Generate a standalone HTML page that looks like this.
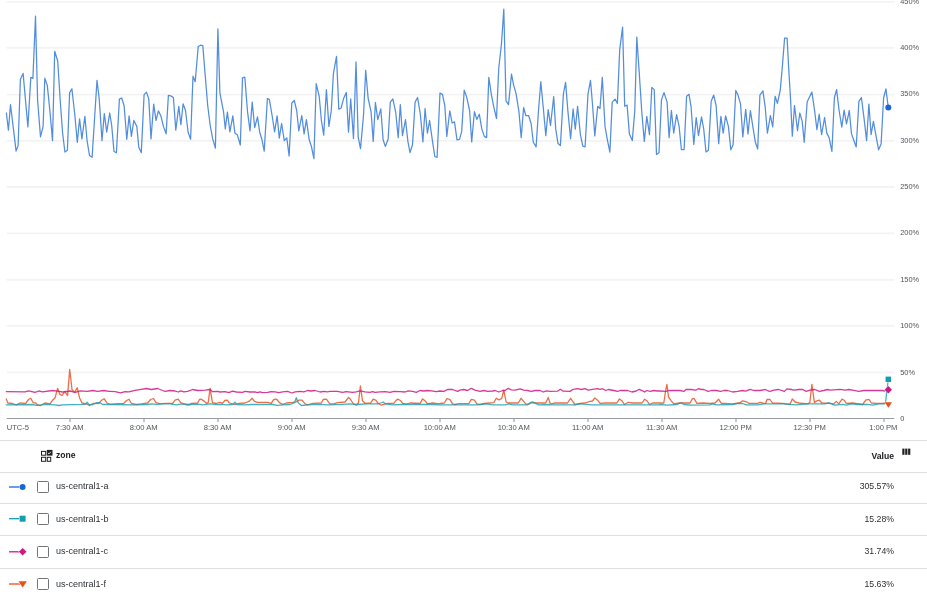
<!DOCTYPE html>
<html><head><meta charset="utf-8">
<style>
html,body{margin:0;padding:0;background:#fff;}
body{width:927px;height:600px;overflow:hidden;position:relative;font-family:"Liberation Sans",sans-serif;}
svg{position:absolute;left:0;top:0;}
.yl{font-size:7.4px;fill:#50545a;font-family:"Liberation Sans",sans-serif;}
.xl{font-size:7.6px;fill:#50545a;font-family:"Liberation Sans",sans-serif;}
.hr{position:absolute;left:0;width:927px;height:1px;background:#e0e0e0;}
.lbl{position:absolute;left:56px;font-size:9px;color:#2d3034;line-height:10px;white-space:nowrap;}
.val{position:absolute;right:33px;font-size:8.7px;color:#2d3034;line-height:10px;white-space:nowrap;text-align:right;}
.cb{position:absolute;left:37px;width:10px;height:10px;border:1px solid #70757a;border-radius:1.5px;box-sizing:content-box;}
.hd{position:absolute;font-size:8.6px;color:#202124;line-height:10px;font-weight:bold;white-space:nowrap;}
</style></head><body><div id="w" style="position:absolute;left:0;top:0;width:927px;height:600px;will-change:transform;background:#fff;">
<svg width="927" height="600" viewBox="0 0 927 600">
<g stroke="#f3f3f3" stroke-width="1.8" fill="none">
<line x1="6.7" x2="894.4" y1="372.40" y2="372.40"/>
<line x1="6.7" x2="894.4" y1="325.80" y2="325.80"/>
<line x1="6.7" x2="894.4" y1="279.80" y2="279.80"/>
<line x1="6.7" x2="894.4" y1="233.40" y2="233.40"/>
<line x1="6.7" x2="894.4" y1="187.00" y2="187.00"/>
<line x1="6.7" x2="894.4" y1="140.85" y2="140.85"/>
<line x1="6.7" x2="894.4" y1="94.55" y2="94.55"/>
<line x1="6.7" x2="894.4" y1="47.80" y2="47.80"/>
<line x1="6.7" x2="894.4" y1="1.90" y2="1.90"/>
</g>
<line x1="6.7" x2="894.2" y1="418.5" y2="418.5" stroke="#969ba1" stroke-width="1"/>
<g stroke="#c6c9cc" stroke-width="2">
<line x1="70.0" x2="70.0" y1="419" y2="421.9"/>
<line x1="144.0" x2="144.0" y1="419" y2="421.9"/>
<line x1="218.0" x2="218.0" y1="419" y2="421.9"/>
<line x1="292.0" x2="292.0" y1="419" y2="421.9"/>
<line x1="366.0" x2="366.0" y1="419" y2="421.9"/>
<line x1="440.0" x2="440.0" y1="419" y2="421.9"/>
<line x1="514.0" x2="514.0" y1="419" y2="421.9"/>
<line x1="588.0" x2="588.0" y1="419" y2="421.9"/>
<line x1="662.0" x2="662.0" y1="419" y2="421.9"/>
<line x1="736.0" x2="736.0" y1="419" y2="421.9"/>
<line x1="810.0" x2="810.0" y1="419" y2="421.9"/>
<line x1="884.0" x2="884.0" y1="419" y2="421.9"/>
</g>
<g class="yl">
<text x="900.2" y="420.5">0</text>
<text x="900.2" y="374.7">50%</text>
<text x="900.2" y="327.9">100%</text>
<text x="900.2" y="281.6">150%</text>
<text x="900.2" y="235.3">200%</text>
<text x="900.2" y="189.0">250%</text>
<text x="900.2" y="142.7">300%</text>
<text x="900.2" y="96.1">350%</text>
<text x="900.2" y="50.1">400%</text>
<text x="900.2" y="3.8">450%</text>
</g>
<g class="xl" text-anchor="middle">
<text x="6.7" y="430.0" text-anchor="start">UTC-5</text>
<text x="69.7" y="430.0">7:30 AM</text>
<text x="143.7" y="430.0">8:00 AM</text>
<text x="217.7" y="430.0">8:30 AM</text>
<text x="291.7" y="430.0">9:00 AM</text>
<text x="365.7" y="430.0">9:30 AM</text>
<text x="439.7" y="430.0">10:00 AM</text>
<text x="513.7" y="430.0">10:30 AM</text>
<text x="587.7" y="430.0">11:00 AM</text>
<text x="661.7" y="430.0">11:30 AM</text>
<text x="735.7" y="430.0">12:00 PM</text>
<text x="809.7" y="430.0">12:30 PM</text>
<text x="883.3" y="430.0">1:00 PM</text>
</g>
<g fill="none" stroke-linejoin="round" stroke-linecap="round">
<polyline stroke="#e64a19" stroke-opacity="0.8" stroke-width="1.3" points="6.3,398.9 7.8,403.0 12.5,403.5 16.3,404.8 20.0,403.0 25.7,403.3 28.5,399.5 30.7,398.3 33.2,402.7 35.7,403.0 37.5,404.8 40.7,405.5 45.0,403.0 50.1,403.9 52.6,400.2 55.1,397.7 57.6,388.3 59.8,394.3 62.2,395.5 64.7,391.4 67.6,395.5 69.7,369.5 72.0,389.5 74.7,392.4 77.2,387.7 79.5,397.7 82.0,403.0 86.3,403.9 89.5,405.5 93.2,403.3 98.9,403.5 101.6,400.2 104.1,398.7 107.0,403.0 110.1,404.3 115.0,403.9 123.8,403.3 126.3,400.8 129.0,399.3 131.3,403.3 136.3,404.5 141.3,403.9 147.5,403.0 150.7,399.5 153.5,398.5 156.0,402.7 160.1,403.9 165.1,403.3 172.6,403.3 175.1,400.2 178.2,399.2 180.7,402.7 185.1,404.5 188.8,405.2 191.3,403.3 197.6,403.0 199.5,399.5 201.3,399.2 204.5,401.4 206.4,403.3 208.2,402.7 210.1,388.3 212.4,402.7 216.4,403.5 218.9,402.5 220.0,402.3 222.5,403.3 224.8,400.5 227.3,400.2 229.4,403.0 232.5,403.9 235.0,404.5 238.8,403.3 245.0,403.0 248.8,401.4 252.2,398.3 254.4,401.4 257.5,402.3 267.6,402.3 271.3,403.3 273.2,400.2 275.1,399.2 276.9,399.5 279.4,402.7 282.6,404.3 286.3,403.0 292.6,402.3 296.3,401.8 298.8,400.2 302.0,400.2 305.1,403.9 307.6,404.8 312.6,403.3 321.4,403.0 323.2,399.5 326.4,399.2 328.9,402.7 330.0,403.9 333.8,403.9 337.5,402.7 345.0,402.0 348.5,397.4 350.6,399.5 353.1,403.5 356.3,405.2 358.5,402.7 360.4,385.8 362.5,400.8 365.0,403.3 370.7,403.0 373.2,399.2 375.7,400.2 378.2,403.5 381.3,405.2 383.8,404.3 387.6,403.3 393.8,403.3 396.3,400.2 398.2,399.2 400.7,400.8 402.6,403.3 406.3,404.2 410.1,403.0 420.1,403.5 422.6,398.9 425.1,400.8 427.6,403.9 432.6,403.0 437.6,403.7 440.0,403.5 444.4,403.0 446.9,398.7 449.8,399.3 452.5,403.9 455.0,404.5 458.8,403.7 468.8,403.7 471.3,399.3 474.4,400.2 476.9,403.9 480.0,404.5 483.8,403.5 493.8,402.7 496.3,398.3 498.8,399.9 501.6,398.7 503.8,390.2 506.1,402.0 508.2,403.0 518.2,403.0 521.1,398.3 523.2,400.8 525.7,403.9 528.8,404.3 531.3,402.7 535.1,403.0 545.7,403.0 548.2,397.4 550.1,403.3 551.3,403.9 555.0,403.0 567.5,403.0 570.6,398.3 573.1,402.0 575.0,404.5 580.0,403.3 585.0,403.0 590.0,401.4 592.5,401.0 594.8,397.9 597.6,400.2 600.1,403.3 605.1,403.0 616.9,403.0 619.4,398.9 622.0,400.8 624.5,404.5 628.2,402.3 632.6,403.0 642.0,403.0 644.5,399.3 647.0,400.8 649.5,404.5 652.6,403.0 660.1,403.0 663.8,403.0 665.6,390.8 666.9,384.3 668.5,397.0 671.3,400.8 673.8,403.9 678.8,403.0 690.0,403.0 692.3,398.9 694.0,398.3 696.9,403.3 702.5,403.0 710.1,403.5 715.1,403.0 718.6,399.2 721.3,403.3 725.1,403.3 732.6,403.9 740.1,402.7 742.6,400.8 746.3,401.8 748.8,403.3 757.6,403.3 760.1,402.3 763.9,403.3 765.7,403.3 767.0,399.5 770.1,399.5 772.5,403.0 782.5,403.3 790.0,404.3 792.3,398.9 795.0,402.0 798.8,403.0 807.5,403.9 809.8,402.7 811.9,384.3 814.4,402.7 816.9,400.8 819.4,400.2 821.9,403.0 828.8,403.3 833.8,403.9 836.3,401.4 838.8,403.9 842.0,399.2 844.5,400.5 846.3,403.3 852.6,403.0 862.6,404.5 865.7,400.2 868.9,399.3 871.4,403.0 876.4,403.3 882.6,403.3 885.1,402.8 888.3,403.5"/>
<polyline stroke="#d01884" stroke-opacity="0.85" stroke-width="1.3" points="6.3,391.7 25.0,391.8 28.8,390.8 35.0,392.4 38.8,391.0 42.5,391.8 52.6,390.5 58.8,391.4 62.6,392.0 70.1,391.0 75.1,392.4 80.1,390.8 87.6,391.4 92.6,390.5 97.6,391.4 103.9,390.5 108.9,391.4 110.0,391.4 115.0,391.7 120.6,392.9 125.0,391.7 128.8,391.8 135.0,390.4 141.3,389.3 146.3,388.5 151.3,389.5 157.6,388.5 162.6,390.5 165.1,391.4 170.1,390.5 175.1,391.0 178.2,392.0 180.7,390.8 183.8,391.8 187.6,391.4 192.6,389.5 197.6,390.5 205.1,390.2 210.1,389.5 212.6,391.7 217.6,391.4 220.0,392.0 225.0,391.7 228.8,392.7 232.5,391.2 236.3,392.0 242.5,392.4 245.0,391.4 250.0,392.0 255.0,391.8 257.5,392.7 260.0,391.8 262.5,392.7 267.6,392.4 271.3,391.7 275.1,391.8 278.8,392.7 282.6,391.8 287.6,391.4 292.0,393.0 295.1,391.8 300.1,391.4 303.8,391.8 307.6,390.5 311.3,391.0 315.1,390.5 320.1,392.0 323.9,391.4 327.6,391.8 330.0,391.4 337.5,391.4 342.5,392.3 346.3,391.7 352.5,392.3 356.3,391.8 360.0,390.8 365.0,391.8 370.0,392.3 372.5,391.7 375.0,392.4 380.1,391.8 385.1,391.7 390.1,392.4 393.8,391.4 400.1,391.7 405.1,392.0 408.2,390.8 412.6,391.4 416.3,392.3 420.1,390.5 423.9,391.0 427.6,390.5 431.4,390.8 436.4,391.7 440.0,391.0 443.8,391.4 447.5,389.5 452.5,389.5 457.5,391.4 460.0,390.2 463.8,389.5 467.5,390.5 471.3,388.3 475.0,390.2 480.0,391.4 483.8,390.5 487.6,391.4 492.6,391.0 495.1,390.5 498.8,392.0 502.6,390.5 505.1,390.5 508.2,388.3 511.3,389.8 515.1,390.2 520.1,388.9 523.8,390.2 527.6,390.5 531.3,391.4 535.1,390.5 540.1,390.5 543.2,392.0 546.4,390.8 550.0,391.4 557.5,391.2 560.3,389.3 563.1,391.2 570.0,391.4 573.1,389.3 577.5,388.7 581.3,389.5 585.0,388.7 588.2,390.2 592.5,389.3 597.6,388.7 600.1,389.3 602.6,388.7 605.7,390.5 608.2,389.5 613.8,390.5 617.6,391.4 620.1,390.5 627.6,390.5 632.0,392.0 636.3,391.0 639.1,389.3 642.6,390.8 644.5,392.0 647.0,390.5 650.1,391.4 653.9,390.5 657.6,391.0 660.0,391.0 666.3,391.4 668.8,390.5 680.0,390.5 683.8,391.4 686.3,389.3 691.3,389.5 695.7,390.2 698.2,388.7 701.3,389.5 703.8,389.5 708.2,391.4 711.3,390.5 716.3,390.5 720.7,391.4 723.8,390.5 727.6,390.5 732.6,392.0 737.6,391.4 742.6,390.5 745.7,391.2 750.1,389.3 753.9,390.5 760.1,390.5 765.1,389.5 768.9,391.2 770.0,391.4 773.8,390.2 778.8,389.5 784.4,391.4 786.9,388.9 791.3,389.5 793.8,390.2 798.8,389.5 802.5,389.5 806.3,391.4 810.0,390.2 815.0,389.5 819.4,391.4 823.8,390.5 827.6,389.5 830.1,390.2 833.8,389.8 840.1,389.3 845.1,390.2 848.8,389.5 852.6,390.2 858.8,391.4 863.9,390.5 870.1,390.5 877.6,390.5 881.7,390.4 884.6,391.0 888.3,389.8"/>
<polyline stroke="#129eaf" stroke-opacity="0.8" stroke-width="1.3" points="6.3,404.8 32.5,404.5 36.3,405.4 41.3,404.9 43.8,404.3 55.1,404.8 58.8,405.5 62.6,404.8 85.1,404.3 87.2,402.3 88.8,404.3 92.6,404.8 96.4,402.7 100.1,402.7 102.6,404.5 108.9,404.5 110.0,404.5 135.0,404.8 147.5,404.5 151.3,403.9 156.3,404.3 162.6,403.9 170.1,403.9 176.3,404.9 182.6,403.9 190.1,404.5 197.6,404.2 202.6,404.8 210.1,403.9 216.4,404.5 220.0,404.3 227.5,404.9 232.5,404.5 235.0,402.3 236.9,404.5 245.0,404.8 251.3,404.5 272.6,404.5 277.6,405.4 282.6,404.9 290.1,404.5 294.5,402.7 296.3,397.7 298.2,402.7 301.3,405.5 307.6,404.8 320.1,404.3 326.4,404.8 330.0,404.8 342.5,404.3 350.0,403.9 356.3,404.5 367.5,403.9 377.6,403.9 380.7,403.0 383.2,402.0 385.7,403.9 392.6,404.9 402.6,404.5 417.6,404.5 430.1,404.5 440.0,404.8 452.5,404.8 477.5,404.8 486.3,403.9 492.6,404.9 505.1,404.8 508.8,403.9 512.6,404.8 527.6,404.8 530.1,402.7 532.6,401.8 535.7,403.3 538.9,404.8 548.9,404.5 550.0,404.8 575.0,404.8 580.0,403.9 587.5,404.3 591.3,404.9 612.6,404.8 658.9,404.8 660.0,404.5 667.5,405.2 677.5,404.5 679.4,403.3 681.3,402.7 683.8,404.5 691.3,405.2 710.1,404.8 712.6,403.9 716.3,404.9 732.6,404.5 737.6,403.5 742.6,403.5 746.3,404.9 757.6,404.9 763.9,403.9 768.9,403.9 770.0,403.9 782.5,403.9 796.3,404.8 807.5,403.9 825.1,403.9 828.8,402.7 832.6,404.5 835.1,405.2 842.6,404.3 846.3,405.2 851.3,403.9 857.6,404.5 867.6,404.3 872.6,405.2 878.9,403.9 884.5,403.8 885.4,403.3 888.2,380.0"/>
<polyline stroke="#1967d2" stroke-opacity="0.75" stroke-width="1.25" points="6.4,113.0 8.4,130.2 10.5,104.6 16.1,151.1 18.1,145.6 20.4,79.2 23.1,73.4 27.9,126.9 30.8,77.4 32.9,78.4 35.5,16.2 37.6,100.3 40.5,136.9 43.1,126.4 44.8,78.2 47.3,85.4 50.0,112.0 52.5,140.6 54.7,51.3 57.7,61.0 60.2,100.3 62.6,133.0 64.9,152.0 67.4,150.3 69.6,92.9 71.9,88.8 74.7,113.8 77.3,142.3 79.6,118.9 81.9,138.9 84.9,116.3 87.0,140.0 89.5,155.6 92.1,157.3 94.6,118.0 97.0,80.4 99.2,98.8 102.0,140.6 104.3,113.5 106.7,132.2 109.7,113.0 111.7,125.5 114.0,151.5 116.4,152.8 119.4,99.1 121.7,98.0 124.1,105.8 126.8,139.3 129.1,115.8 131.4,136.4 133.8,120.5 136.8,126.4 138.8,147.3 141.3,152.8 144.1,94.6 146.5,92.1 148.8,99.1 151.0,138.9 153.7,104.1 156.0,120.5 158.4,110.8 161.0,116.3 163.4,126.4 166.1,133.9 168.4,95.4 170.7,95.9 173.4,97.5 175.8,130.2 178.8,106.3 180.9,124.7 183.1,103.8 185.5,110.5 188.1,132.2 190.6,139.3 193.0,76.2 195.2,81.7 198.2,46.5 200.5,45.2 202.8,45.5 205.2,75.3 207.7,105.5 210.2,125.5 212.7,138.9 215.4,148.1 217.9,28.8 219.9,92.9 223.6,112.2 225.3,128.9 227.4,112.2 229.9,131.9 232.8,115.8 234.9,133.1 237.3,134.7 240.3,145.1 242.5,77.9 244.8,77.1 247.5,111.3 250.0,130.9 252.2,102.1 254.7,127.7 257.5,116.8 259.7,132.2 262.0,139.8 264.2,151.1 267.4,98.5 269.4,99.6 272.1,115.5 274.6,131.9 277.1,115.8 279.3,138.1 281.6,123.5 284.3,140.6 286.8,137.8 289.1,156.0 291.8,103.0 294.3,100.5 296.7,110.5 298.8,130.9 301.8,115.5 304.1,133.9 306.4,119.7 309.2,139.8 311.4,146.4 313.9,158.7 316.2,83.7 319.2,96.3 321.4,120.5 323.7,135.2 326.4,89.6 328.9,126.4 331.3,110.5 333.4,73.7 336.5,56.4 338.8,109.2 341.1,108.0 343.5,98.8 346.3,92.6 348.5,132.2 350.7,98.8 353.5,138.6 356.0,61.9 358.2,137.2 360.5,148.6 363.5,115.5 365.7,70.3 368.1,98.0 371.1,112.2 373.2,141.4 375.4,102.5 377.8,119.7 380.8,108.8 383.1,139.8 385.3,146.4 388.1,139.3 390.3,102.1 392.8,98.8 395.7,112.2 398.2,137.6 400.3,104.6 402.5,135.6 405.5,119.7 407.9,141.4 410.0,152.6 412.5,144.8 415.1,102.1 417.6,97.5 420.4,114.7 422.9,141.9 425.1,108.5 427.4,133.1 429.6,120.5 432.4,140.6 434.8,156.5 437.1,157.3 440.0,92.9 442.5,94.6 444.8,105.5 446.8,136.4 449.8,110.8 452.1,123.0 454.5,121.9 457.0,139.8 459.5,139.3 461.7,131.4 464.2,90.1 466.7,97.1 469.6,110.5 471.7,141.9 474.4,111.7 476.8,119.4 479.3,114.2 481.8,128.9 484.3,136.4 486.6,137.6 488.8,77.4 491.5,95.4 493.8,107.2 496.5,118.5 498.7,68.8 501.5,43.5 503.8,9.2 506.0,100.8 508.5,104.6 511.5,74.0 513.5,84.6 516.1,93.8 518.9,111.3 521.2,137.6 523.6,107.5 525.8,115.5 528.6,115.5 531.1,123.5 533.3,142.3 536.1,146.9 538.4,112.0 540.8,81.7 543.3,108.0 545.8,135.6 548.2,109.7 550.5,125.5 553.7,96.6 555.7,128.9 558.0,143.6 560.4,145.6 563.4,93.8 565.6,82.4 567.9,111.3 570.6,138.6 573.1,108.8 575.3,129.2 577.6,106.3 580.4,134.7 582.8,146.1 585.1,146.8 588.0,93.8 590.5,80.4 592.6,105.5 594.8,135.9 597.7,106.3 600.0,108.5 602.3,77.4 605.0,126.4 607.5,140.6 609.9,152.0 612.2,102.1 615.1,99.1 617.4,103.5 619.7,49.7 622.6,27.1 624.7,106.3 627.1,105.1 629.4,133.9 632.3,140.6 634.8,110.5 636.8,37.1 639.2,72.0 641.8,112.2 644.3,141.4 646.8,116.3 649.5,134.7 651.8,87.4 654.2,89.6 656.5,154.5 659.0,152.8 661.5,99.6 664.0,92.6 667.1,102.1 669.1,137.6 671.4,110.5 673.7,133.1 676.6,114.7 679.1,126.4 681.4,149.5 684.1,149.5 686.6,96.3 689.0,94.3 691.1,107.2 693.8,144.4 696.2,117.5 698.5,135.6 701.5,116.8 703.7,128.9 706.0,152.0 708.4,150.3 711.2,101.3 713.7,95.1 716.1,105.5 718.7,143.6 720.9,116.3 723.2,133.1 725.6,115.8 728.4,126.4 730.8,149.8 733.1,144.8 735.8,90.4 738.0,95.1 740.5,103.8 742.8,136.9 745.7,109.3 748.0,133.9 750.4,110.6 752.8,126.4 755.4,142.3 757.7,149.0 759.9,95.1 762.9,90.8 765.2,107.2 767.4,133.1 770.4,115.5 772.7,126.9 775.1,96.3 777.4,103.3 780.3,89.8 782.6,63.5 784.6,38.1 787.1,38.1 788.8,70.2 790.6,100.3 792.3,136.1 794.5,105.5 797.5,130.6 799.8,113.0 802.2,121.4 804.2,142.3 807.2,101.8 809.5,97.1 811.9,92.1 814.7,111.3 816.9,129.7 819.2,114.2 821.6,134.7 824.6,117.5 826.8,133.1 829.1,137.6 831.9,151.5 834.4,97.5 836.6,89.6 839.1,110.5 841.8,127.2 844.1,110.2 846.5,123.9 849.3,110.5 851.5,133.9 853.8,140.3 856.2,147.0 858.9,101.3 861.4,97.5 863.9,117.2 866.6,140.6 868.9,104.1 871.1,134.7 873.4,121.4 876.3,137.3 878.6,149.8 881.1,143.9 883.6,98.0 885.9,88.8 888.3,107.5"/>
</g>
<circle cx="888.3" cy="107.6" r="3" fill="#1967d2"/>
<rect x="885.6" y="376.6" width="5.4" height="5.4" fill="#129eaf" stroke="#fff" stroke-opacity="0.8" stroke-width="1" paint-order="stroke"/>
<path d="M888.3 386.1 L892 389.8 L888.3 393.5 L884.6 389.8 Z" fill="#d01884" stroke="#fff" stroke-opacity="0.8" stroke-width="1" paint-order="stroke"/>
<path d="M884.8 402.2 L892 402.2 L888.4 407.8 Z" fill="#e8501a" stroke="#fff" stroke-opacity="0.8" stroke-width="1" paint-order="stroke"/>
<!-- legend markers -->
<g stroke-width="1.3" fill="none">
<line x1="9" x2="21" y1="487" y2="487" stroke="#1967d2"/>
<line x1="9" x2="21" y1="518.7" y2="518.7" stroke="#129eaf"/>
<line x1="9" x2="21" y1="551.8" y2="551.8" stroke="#d01884"/>
<line x1="9" x2="21" y1="584" y2="584" stroke="#e8501a"/>
</g>
<circle cx="22.6" cy="487" r="3" fill="#1967d2" stroke="#fff" stroke-width="1" paint-order="stroke"/>
<rect x="19.6" y="515.7" width="6" height="6" fill="#129eaf" stroke="#fff" stroke-width="1" paint-order="stroke"/>
<path d="M22.7 548.0 L26.5 551.8 L22.7 555.6 L18.9 551.8 Z" fill="#d01884" stroke="#fff" stroke-width="1" paint-order="stroke"/>
<path d="M18.5 581.2 L26.9 581.2 L22.7 587.5 Z" fill="#e8501a" stroke="#fff" stroke-width="1" paint-order="stroke"/>
<!-- zone icon -->
<g id="zicon" fill="none" stroke="#202124" stroke-width="1">
<rect x="41.5" y="451.4" width="4.2" height="3.8"/>
<rect x="41.5" y="457.3" width="4.2" height="4"/>
<rect x="47.3" y="457.3" width="3.4" height="4"/>
<rect x="46.8" y="449.9" width="5.7" height="5.7" fill="#202124" stroke="none"/>
<path d="M47.9 453.0 L48.9 453.9 L50.9 451.8" stroke="#fff" stroke-width="0.9"/>
</g>
<!-- columns icon -->
<g fill="#202124"><rect x="902.3" y="448.6" width="2.2" height="6.2"/><rect x="905.2" y="448.6" width="2.2" height="6.2"/><rect x="908.1" y="448.6" width="2.2" height="6.2"/></g>

</svg>
<div class="hr" style="top:440px"></div>
<div class="hr" style="top:472px"></div>
<div class="hr" style="top:503px"></div>
<div class="hr" style="top:535px"></div>
<div class="hr" style="top:568px"></div>
<div class="hd" style="left:56px;top:450px">zone</div>
<div class="hd" style="right:33px;top:451px">Value</div>
<div class="cb" style="top:481px"></div><div class="lbl" style="top:480.7px">us-central1-a</div><div class="val" style="top:480.7px">305.57%</div>
<div class="cb" style="top:512.6px"></div><div class="lbl" style="top:514px">us-central1-b</div><div class="val" style="top:513.6px">15.28%</div>
<div class="cb" style="top:545.8px"></div><div class="lbl" style="top:545.8px">us-central1-c</div><div class="val" style="top:545.7px">31.74%</div>
<div class="cb" style="top:578px"></div><div class="lbl" style="top:579px">us-central1-f</div><div class="val" style="top:579px">15.63%</div>

</div></body></html>
